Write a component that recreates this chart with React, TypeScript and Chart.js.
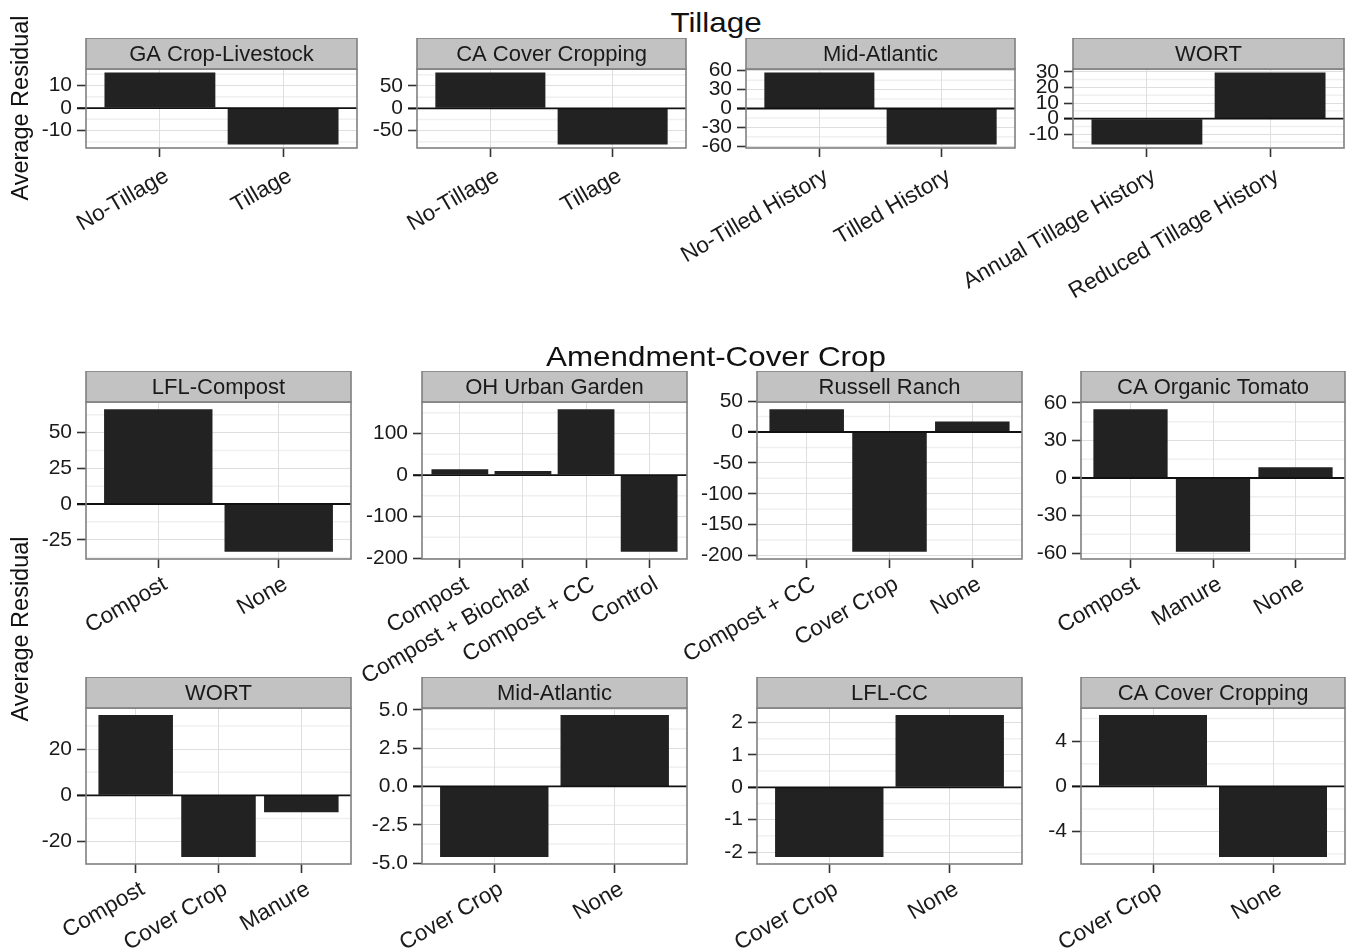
import React, { useEffect, useRef } from "react";
import { Chart, registerables } from "chart.js";
Chart.register(...registerables);

const FONT = "'Liberation Sans', Arial, Helvetica, sans-serif";

// ---------- Tillage ----------
const gaTillCats = ["No-Tillage", "Tillage"];
const gaTillVals = [15.7, -16.1];
const gaTillTicks = [-10, 0, 10];

const caTillCats = ["No-Tillage", "Tillage"];
const caTillVals = [80, -81];
const caTillTicks = [-50, 0, 50];

const maTillCats = ["No-Tilled History", "Tilled History"];
const maTillVals = [57, -57];
const maTillTicks = [-60, -30, 0, 30, 60];

const wortTillCats = ["Annual Tillage History", "Reduced Tillage History"];
const wortTillVals = [-16.5, 29.5];
const wortTillTicks = [-10, 0, 10, 20, 30];

// ---------- Amendment-Cover Crop ----------
const lflCompCats = ["Compost", "None"];
const lflCompVals = [66.4, -33.5];
const lflCompTicks = [-25, 0, 25, 50];

const ohCats = ["Compost", "Compost + Biochar", "Compost + CC", "Control"];
const ohVals = [14, 10, 159, -185];
const ohTicks = [-200, -100, 0, 100];

const rrCats = ["Compost + CC", "Cover Crop", "None"];
const rrVals = [37, -194, 17];
const rrTicks = [-200, -150, -100, -50, 0, 50];

const caTomCats = ["Compost", "Manure", "None"];
const caTomVals = [55, -59, 8.5];
const caTomTicks = [-60, -30, 0, 30, 60];

const wortAmCats = ["Compost", "Cover Crop", "Manure"];
const wortAmVals = [34.7, -26.6, -7.3];
const wortAmTicks = [-20, 0, 20];

const maAmCats = ["Cover Crop", "None"];
const maAmVals = [-4.6, 4.65];
const maAmTicks = [-5, -2.5, 0, 2.5, 5];

const lflCcCats = ["Cover Crop", "None"];
const lflCcVals = [-2.15, 2.23];
const lflCcTicks = [-2, -1, 0, 1, 2];

const caCcCats = ["Cover Crop", "None"];
const caCcVals = [6.3, -6.25];
const caCcTicks = [-4, 0, 4];

type PanelDef = {
  title: string;
  cats: string[];
  vals: number[];
  ticks: number[];
  l: number;
  r: number;
  t: number;
  b: number;
  bp: number;
  xpad: number;
};

const STRIP = 31;
const LP = 230;
const RP = 5;
const TL = 9;

const panels: PanelDef[] = [
  { title: "GA Crop-Livestock", cats: gaTillCats, vals: gaTillVals, ticks: gaTillTicks, l: 86, r: 357, t: 69, b: 148, bp: 170, xpad: 6 },
  { title: "CA Cover Cropping", cats: caTillCats, vals: caTillVals, ticks: caTillTicks, l: 417, r: 686, t: 69, b: 148, bp: 170, xpad: 6 },
  { title: "Mid-Atlantic", cats: maTillCats, vals: maTillVals, ticks: maTillTicks, l: 746, r: 1015, t: 69, b: 148, bp: 170, xpad: 6 },
  { title: "WORT", cats: wortTillCats, vals: wortTillVals, ticks: wortTillTicks, l: 1073, r: 1344, t: 69, b: 148, bp: 170, xpad: 6 },
  { title: "LFL-Compost", cats: lflCompCats, vals: lflCompVals, ticks: lflCompTicks, l: 86, r: 351, t: 402, b: 559, bp: 140, xpad: 3 },
  { title: "OH Urban Garden", cats: ohCats, vals: ohVals, ticks: ohTicks, l: 422, r: 687, t: 402, b: 559, bp: 140, xpad: 3 },
  { title: "Russell Ranch", cats: rrCats, vals: rrVals, ticks: rrTicks, l: 757, r: 1022, t: 402, b: 559, bp: 140, xpad: 3 },
  { title: "CA Organic Tomato", cats: caTomCats, vals: caTomVals, ticks: caTomTicks, l: 1081, r: 1345, t: 402, b: 559, bp: 140, xpad: 3 },
  { title: "WORT", cats: wortAmCats, vals: wortAmVals, ticks: wortAmTicks, l: 86, r: 351, t: 708, b: 864, bp: 88, xpad: 3 },
  { title: "Mid-Atlantic", cats: maAmCats, vals: maAmVals, ticks: maAmTicks, l: 422, r: 687, t: 708, b: 864, bp: 88, xpad: 3 },
  { title: "LFL-CC", cats: lflCcCats, vals: lflCcVals, ticks: lflCcTicks, l: 757, r: 1022, t: 708, b: 864, bp: 88, xpad: 3 },
  { title: "CA Cover Cropping", cats: caCcCats, vals: caCcVals, ticks: caCcTicks, l: 1081, r: 1345, t: 708, b: 864, bp: 88, xpad: 3 },
];

function Panel({ p }: { p: PanelDef }) {
  const ref = useRef<HTMLCanvasElement>(null);
  const W = LP + (p.r - p.l) + RP;
  const H = STRIP + (p.b - p.t) + p.bp;

  useEffect(() => {
    if (!ref.current) return;
    const n = p.cats.length;
    const lo = Math.min(0, ...p.vals);
    const hi = Math.max(0, ...p.vals);
    const pad = (hi - lo) * 0.05;
    const ymin = lo - pad;
    const ymax = hi + pad;
    const dec = p.ticks.some((v) => !Number.isInteger(v)) ? 1 : 0;
    const step = p.ticks[1] - p.ticks[0];
    const minors: number[] = [];
    for (let v = p.ticks[0] - step / 2; v <= p.ticks[p.ticks.length - 1] + step / 2 + 1e-9; v += step) {
      if (v > ymin && v < ymax) minors.push(v);
    }

    const deco = {
      id: "deco",
      beforeDraw(chart: any) {
        const { ctx, chartArea: a } = chart;
        const ys = chart.scales.y;
        ctx.save();
        ctx.fillStyle = "#ffffff";
        ctx.fillRect(a.left, a.top, a.right - a.left, a.bottom - a.top);
        ctx.strokeStyle = "#f0f0f0";
        ctx.lineWidth = 1.5;
        for (const m of minors) {
          const py = ys.getPixelForValue(m);
          ctx.beginPath();
          ctx.moveTo(a.left, py);
          ctx.lineTo(a.right, py);
          ctx.stroke();
        }
        ctx.restore();
      },
      afterDatasetsDraw(chart: any) {
        const { ctx, chartArea: a } = chart;
        const ys = chart.scales.y;
        ctx.save();
        const z = ys.getPixelForValue(0);
        ctx.strokeStyle = "#111111";
        ctx.lineWidth = 1.8;
        ctx.beginPath();
        ctx.moveTo(a.left - TL, z);
        ctx.lineTo(a.right, z);
        ctx.stroke();
        ctx.strokeStyle = "#808080";
        ctx.lineWidth = 1.6;
        ctx.strokeRect(a.left, a.top, a.right - a.left, a.bottom - a.top);
        ctx.fillStyle = "#c2c2c2";
        ctx.fillRect(a.left, a.top - STRIP, a.right - a.left, STRIP);
        ctx.strokeRect(a.left, a.top - STRIP, a.right - a.left, STRIP);
        ctx.fillStyle = "#1a1a1a";
        ctx.font = `22px ${FONT}`;
        ctx.textAlign = "center";
        ctx.textBaseline = "middle";
        ctx.fillText(p.title, (a.left + a.right) / 2, a.top - STRIP / 2 + 1);
        ctx.restore();
      },
    };

    const chart = new Chart(ref.current, {
      type: "bar",
      data: {
        datasets: [
          {
            data: p.vals.map((v, i) => ({ x: i + 1, y: v })),
            backgroundColor: "#222222",
            borderWidth: 0,
            barPercentage: 0.9,
            categoryPercentage: 1,
          },
        ],
      },
      options: {
        animation: false,
        responsive: false,
        devicePixelRatio: 1,
        layout: { padding: { top: STRIP, right: RP, left: 0, bottom: 0 } },
        plugins: { legend: { display: false }, tooltip: { enabled: false }, title: { display: false } },
        scales: {
          x: {
            type: "linear",
            min: 0.4,
            max: n + 0.6,
            offset: false,
            afterBuildTicks: (s: any) => {
              s.ticks = p.cats.map((_, i) => ({ value: i + 1 }));
            },
            afterFit: (s: any) => {
              s.height = p.bp;
              s.paddingLeft = 0;
              s.paddingRight = 0;
            },
            ticks: {
              autoSkip: false,
              minRotation: 30,
              maxRotation: 30,
              padding: p.xpad,
              labelOffset: 7,
              color: "#1a1a1a",
              font: { family: FONT, size: 22.5 },
              callback: (v: any) => p.cats[Math.round(Number(v)) - 1] ?? "",
            },
            grid: {
              offset: false,
              color: "#dedede",
              lineWidth: 1,
              tickLength: TL,
              tickColor: "#333333",
              tickWidth: 1.6,
            },
            border: { display: false },
          },
          y: {
            type: "linear",
            min: ymin,
            max: ymax,
            afterBuildTicks: (s: any) => {
              s.ticks = p.ticks.map((v) => ({ value: v }));
            },
            afterFit: (s: any) => {
              s.width = LP;
              s.paddingTop = 0;
              s.paddingBottom = 0;
            },
            ticks: {
              autoSkip: false,
              padding: 5,
              color: "#1a1a1a",
              font: { family: FONT, size: 21 },
              callback: (v: any) => Number(v).toFixed(dec),
            },
            grid: {
              color: "#dedede",
              lineWidth: 1,
              tickLength: TL,
              tickColor: "#333333",
              tickWidth: 1.6,
            },
            border: { display: false },
          },
        },
      } as any,
      plugins: [deco],
    });
    return () => chart.destroy();
  }, []);

  return (
    <canvas
      ref={ref}
      width={W}
      height={H}
      style={{ position: "absolute", left: p.l - LP, top: p.t - STRIP, width: W, height: H, display: "block" }}
    />
  );
}

const titleStyle: React.CSSProperties = {
  position: "absolute",
  fontFamily: FONT,
  fontSize: 28,
  lineHeight: 1,
  color: "#111",
  whiteSpace: "nowrap",
  transform: "translateX(-50%) scaleX(1.12)",
};

const yTitleStyle: React.CSSProperties = {
  position: "absolute",
  fontFamily: FONT,
  fontSize: 23.5,
  lineHeight: 1,
  color: "#111",
  whiteSpace: "nowrap",
  transform: "translate(-50%, -50%) rotate(-90deg)",
};

export default function App() {
  return (
    <div style={{ position: "absolute", left: 0, top: 0, width: 1350, height: 952, background: "#fff", overflow: "hidden" }}>
      {panels.map((p, i) => (
        <Panel key={i} p={p} />
      ))}
      <div style={{ ...titleStyle, left: 716, top: 9 }}>Tillage</div>
      <div style={{ ...titleStyle, left: 716, top: 343 }}>Amendment-Cover Crop</div>
      <div style={{ ...yTitleStyle, left: 21, top: 108 }}>Average Residual</div>
      <div style={{ ...yTitleStyle, left: 21, top: 629 }}>Average Residual</div>
    </div>
  );
}
